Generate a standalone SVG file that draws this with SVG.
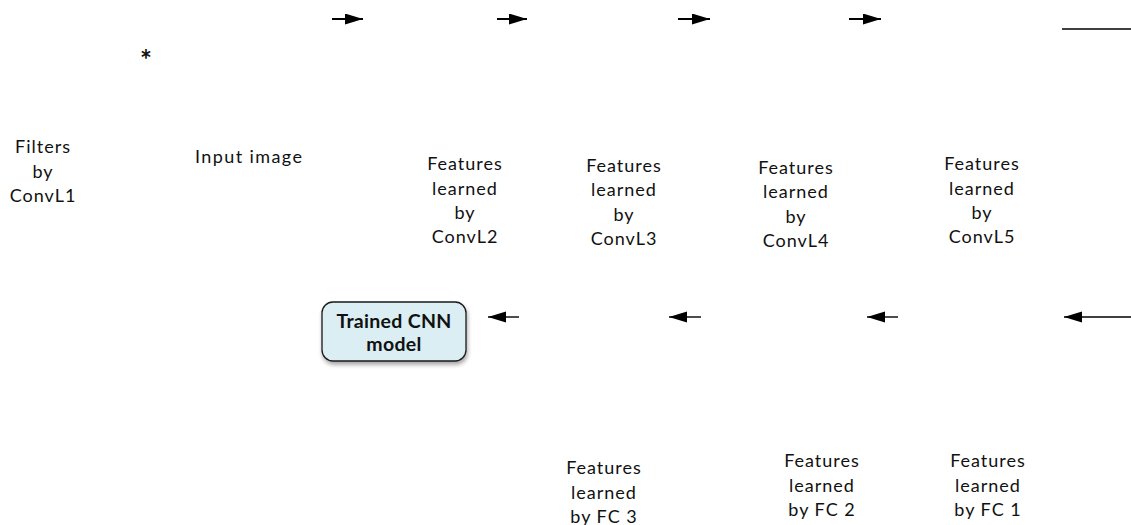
<svg xmlns="http://www.w3.org/2000/svg" width="1131" height="525" viewBox="0 0 1131 525">
<defs>
<style>
.t{font-family:Lato,"Liberation Sans",sans-serif;font-size:18px;letter-spacing:1px;fill:#111;text-anchor:middle}
.b{font-family:Lato,"Liberation Sans",sans-serif;font-size:19.5px;font-weight:bold;letter-spacing:0.3px;fill:#111;text-anchor:middle}
.c{stroke:#000;stroke-width:2;fill:none}
.c2{stroke:#000;stroke-width:1.4;fill:none}
</style>
<marker id="ah" markerUnits="userSpaceOnUse" markerWidth="20" markerHeight="12" refX="18" refY="5.5" orient="auto">
<path d="M0,0 L18,5.5 L0,11 Z" fill="#000"/>
</marker>
<filter id="sh" x="-10%" y="-10%" width="130%" height="140%">
<feGaussianBlur in="SourceAlpha" stdDeviation="2"/>
<feOffset dx="1" dy="3"/>
<feComponentTransfer><feFuncA type="linear" slope="0.35"/></feComponentTransfer>
<feMerge><feMergeNode/><feMergeNode in="SourceGraphic"/></feMerge>
</filter>
</defs>
<rect width="1131" height="525" fill="#fff"/>
<g id="connectors">
<line class="c" x1="332" y1="19" x2="363" y2="19" marker-end="url(#ah)"/>
<line class="c" x1="497" y1="19" x2="527" y2="19" marker-end="url(#ah)"/>
<line class="c" x1="678" y1="19" x2="710" y2="19" marker-end="url(#ah)"/>
<line class="c" x1="849" y1="19" x2="881" y2="19" marker-end="url(#ah)"/>
<line class="c2" x1="1062" y1="29" x2="1131" y2="29"/>
<line class="c2" x1="519" y1="317" x2="488" y2="317" marker-end="url(#ah)"/>
<line class="c2" x1="701" y1="317" x2="669" y2="317" marker-end="url(#ah)"/>
<line class="c2" x1="898" y1="317" x2="867" y2="317" marker-end="url(#ah)"/>
<line class="c2" x1="1131" y1="317" x2="1064" y2="317" marker-end="url(#ah)"/>
</g>
<g id="star"><text class="t" x="146" y="70" style="font-size:28px;font-weight:bold;letter-spacing:0">*</text></g>
<g id="convl1"><text class="t" x="43" y="153">Filters</text><text class="t" x="43" y="178">by</text><text class="t" x="43" y="202">ConvL1</text></g>
<g id="input"><text class="t" x="195" y="163" style="text-anchor:start;letter-spacing:1.4px">Input image</text></g>
<g id="convl2"><text class="t" x="465" y="170">Features</text><text class="t" x="465" y="195">learned</text><text class="t" x="465" y="219">by</text><text class="t" x="465" y="243">ConvL2</text></g>
<g id="convl3"><text class="t" x="624" y="172">Features</text><text class="t" x="624" y="196">learned</text><text class="t" x="624" y="221">by</text><text class="t" x="624" y="245">ConvL3</text></g>
<g id="convl4"><text class="t" x="796" y="174">Features</text><text class="t" x="796" y="198">learned</text><text class="t" x="796" y="223">by</text><text class="t" x="796" y="247">ConvL4</text></g>
<g id="convl5"><text class="t" x="982" y="170">Features</text><text class="t" x="982" y="195">learned</text><text class="t" x="982" y="219">by</text><text class="t" x="982" y="243">ConvL5</text></g>
<g id="model">
<rect x="322" y="302" width="144" height="59" rx="11" fill="#daeef3" stroke="#1a1a1a" stroke-width="1.3" filter="url(#sh)"/>
<text class="b" x="394" y="328">Trained CNN</text><text class="b" x="394" y="351">model</text>
</g>
<g id="fc3"><text class="t" x="604" y="474">Features</text><text class="t" x="604" y="499">learned</text><text class="t" x="604" y="523">by FC 3</text></g>
<g id="fc2"><text class="t" x="822" y="467">Features</text><text class="t" x="822" y="492">learned</text><text class="t" x="822" y="516">by FC 2</text></g>
<g id="fc1"><text class="t" x="988" y="467">Features</text><text class="t" x="988" y="492">learned</text><text class="t" x="988" y="516">by FC 1</text></g>
</svg>
